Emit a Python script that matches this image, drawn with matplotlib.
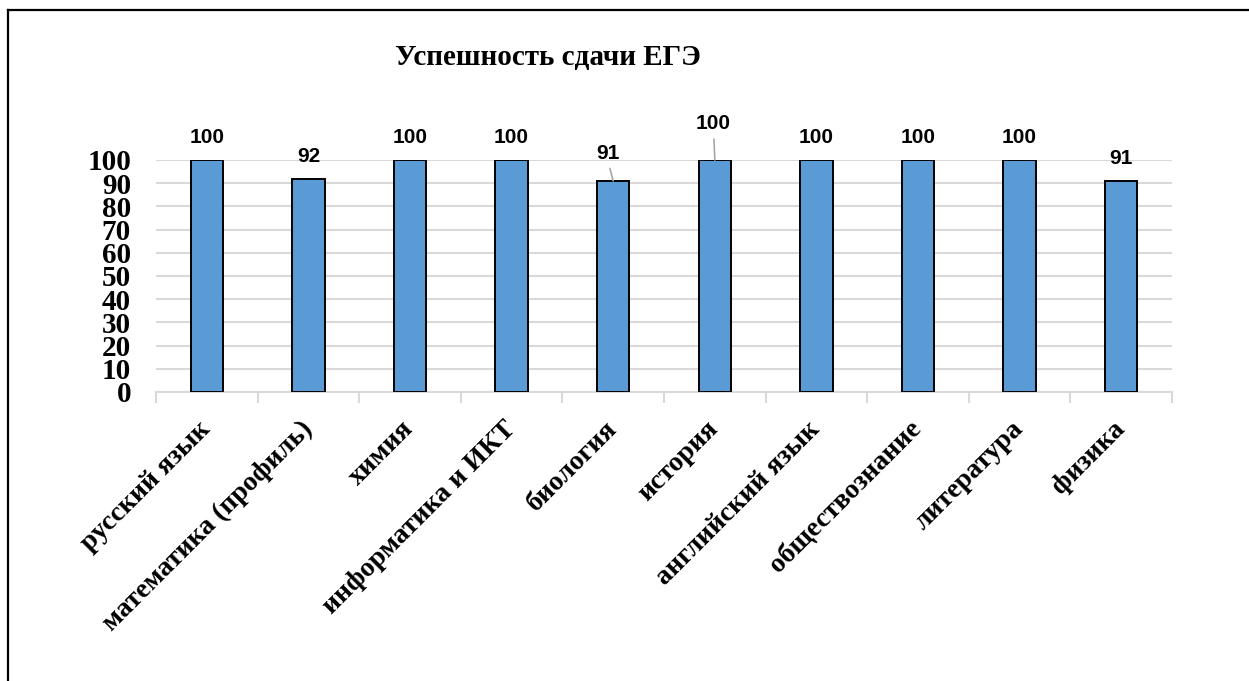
import matplotlib
matplotlib.use("Agg")
import matplotlib.pyplot as plt
from matplotlib.lines import Line2D
import numpy as np

subjects = ["русский язык", "математика (профиль)", "химия", "информатика и ИКТ",
            "биология", "история", "английский язык", "обществознание",
            "литература", "физика"]
success = [100, 92, 100, 100, 91, 100, 100, 100, 100, 91]
yticks = list(range(0, 101, 10))

bar_color = "#5b9bd5"
grid_color = "#d9d9d9"

fig = plt.figure(figsize=(12.49, 6.81), dpi=100)
ax = fig.add_axes([156 / 1249, 289 / 681, 1016 / 1249, 232 / 681])

x = np.arange(len(subjects))
ax.bar(x, success, width=0.32, color=bar_color, edgecolor="black",
       linewidth=1.4, zorder=3)

ax.set_xlim(-0.5, len(subjects) - 0.5)
ax.set_ylim(0, 100)
ax.set_yticks(yticks)
ax.set_yticklabels([str(v) for v in yticks], family="Liberation Serif",
                   fontweight="bold", fontsize=21)
ax.tick_params(axis="y", length=0, pad=18)
ax.yaxis.grid(True, color=grid_color, linewidth=1.5, zorder=0)

for s in ["top", "right", "left"]:
    ax.spines[s].set_visible(False)
ax.spines["bottom"].set_color(grid_color)
ax.spines["bottom"].set_linewidth(1.5)

ax.set_xticks(x)
ax.set_xticklabels(subjects, rotation=45, ha="right", va="center",
                   rotation_mode="anchor", family="Liberation Serif",
                   fontweight="bold", fontsize=20)
ax.tick_params(axis="x", which="major", length=0, pad=24)
ax.set_xticks(np.arange(-0.5, len(subjects)), minor=True)
ax.tick_params(axis="x", which="minor", length=8, width=1.5, color=grid_color)

# data labels; two of them are shifted with leader lines, as in the source
offsets = {4: (-4, 20), 5: (-1, 26)}
for i, v in enumerate(success):
    dx, dy = offsets.get(i, (0, 16))
    ax.annotate(str(v), xy=(i, v), xytext=(dx, dy), textcoords="offset points",
                ha="center", va="center", fontsize=15, fontweight="bold",
                family="Liberation Sans", annotation_clip=False)
    if i in offsets:
        ax.annotate("", xy=(i, v), xytext=(dx * 0.6, dy - 11),
                    textcoords="offset points", annotation_clip=False,
                    arrowprops=dict(arrowstyle="-", color="#a6a6a6", lw=1.2,
                                    shrinkA=0, shrinkB=0))

fig.text(548 / 1249, 1 - 57 / 681, "Успешность сдачи ЕГЭ", ha="center",
         va="center", family="Liberation Serif", fontweight="bold", fontsize=21)

# frame around the chart (only top and left edges are visible)
fig.add_artist(Line2D([8 / 1249, 8 / 1249], [0, 1 - 10 / 681], color="black",
                      linewidth=1.6, transform=fig.transFigure))
fig.add_artist(Line2D([8 / 1249, 1], [1 - 10 / 681, 1 - 10 / 681], color="black",
                      linewidth=1.6, transform=fig.transFigure))

fig.savefig("out.png", dpi=100)
